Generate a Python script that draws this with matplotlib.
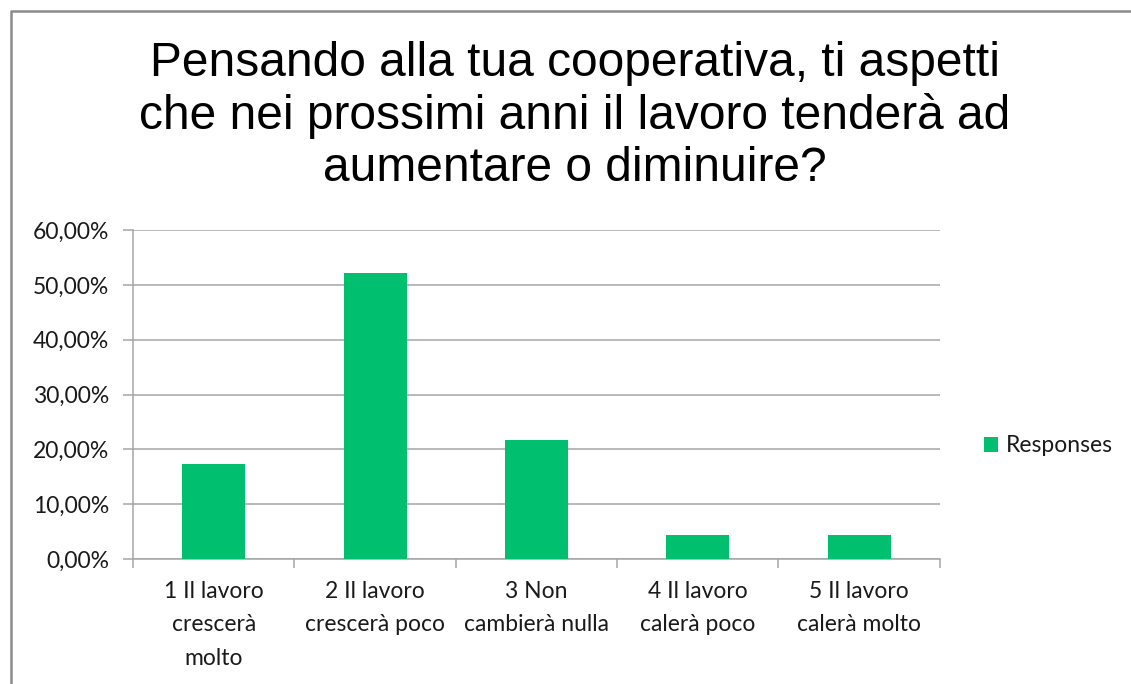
import numpy as np
import matplotlib.pyplot as plt
from matplotlib.lines import Line2D
from matplotlib.ticker import FuncFormatter, FixedLocator

# survey answers and share of responses
categories = ["1 Il lavoro\ncrescerà\nmolto", "2 Il lavoro\ncrescerà poco",
              "3 Non\ncambierà nulla", "4 Il lavoro\ncalerà poco",
              "5 Il lavoro\ncalerà molto"]
responses = [17.39, 52.17, 21.74, 4.35, 4.35]
yticks = [0, 10, 20, 30, 40, 50, 60]
title = ("Pensando alla tua cooperativa, ti aspetti\n"
         "che nei prossimi anni il lavoro tenderà ad\n"
         "aumentare o diminuire?")

green = "#00BF6F"
grid_c = "#A6A6A6"
text_c = "#1A1A1A"

fig = plt.figure(figsize=(11.31, 6.84), dpi=100)
ax = fig.add_axes([0.1176, 0.1827, 0.8310 - 0.1176, 0.6637 - 0.1827])

x = np.arange(len(categories))
ax.bar(x, responses, width=0.39, color=green, label="Responses", zorder=3)

ax.set_xlim(-0.5, len(categories) - 0.5)
ax.set_ylim(0, 60)
ax.set_yticks(yticks)
ax.yaxis.set_major_formatter(FuncFormatter(lambda v, p: f"{v:.2f}%".replace(".", ",")))
ax.grid(axis="y", color=grid_c, lw=1.1, zorder=0)

ax.set_xticks(x)
ax.set_xticklabels(categories, fontsize=16.5, family="Lato", color=text_c, linespacing=1.72)
ax.xaxis.set_minor_locator(FixedLocator(np.arange(-0.5, len(categories), 1.0)))
ax.tick_params(axis="x", which="major", length=0, pad=16)
ax.tick_params(axis="x", which="minor", length=6.5, color=grid_c, width=1.1)
ax.tick_params(axis="y", length=7, color=grid_c, width=1.1, pad=10,
               labelsize=16.5, labelcolor=text_c)
for lab in ax.get_yticklabels():
    lab.set_family("Lato")

for s in ["top", "right"]:
    ax.spines[s].set_visible(False)
for s in ["left", "bottom"]:
    ax.spines[s].set_color(grid_c)
    ax.spines[s].set_linewidth(1.1)

fig.text(0.508, 0.94, title, ha="center", va="top", fontsize=34.5,
         family="Liberation Sans", color="black", linespacing=1.19)

fig.legend(loc="center left", bbox_to_anchor=(0.852, 0.348), frameon=False,
           prop={"family": "Lato", "size": 16.5}, handlelength=0.6,
           handleheight=0.6, handletextpad=0.35, labelcolor=text_c)

# outer chart border (left and top visible)
bx = 10.5 / 1131
by = 1 - 10.5 / 684
fig.add_artist(Line2D([bx, bx, 1.0], [0.0, by, by], transform=fig.transFigure,
                      color="#8C8C8C", lw=1.8))

fig.savefig("out.png", dpi=100, facecolor="white")
